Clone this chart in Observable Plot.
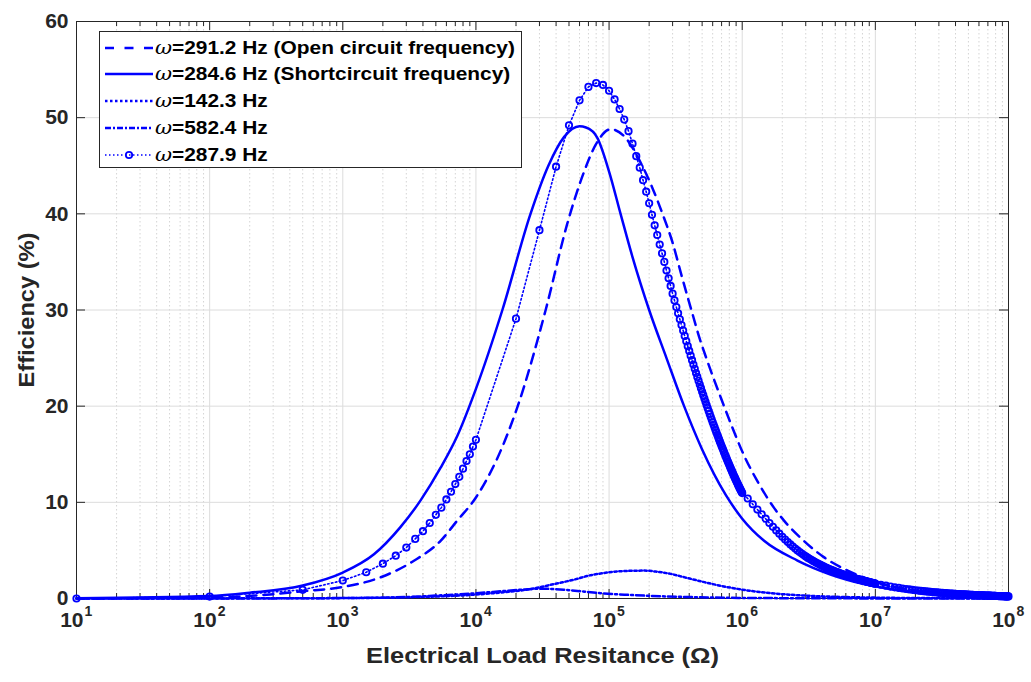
<!DOCTYPE html>
<html><head><meta charset="utf-8">
<script src="https://cdn.jsdelivr.net/npm/d3@7"></script>
<script src="https://cdn.jsdelivr.net/npm/@observablehq/plot@0.6"></script>
<style>
body{margin:0;background:#fff;}
#wrap{position:relative;width:1031px;height:682px;font-family:"Liberation Sans",Arial,Helvetica,sans-serif;}
#legend{position:absolute;left:99px;top:31px;width:423px;height:137px;border:1px solid #262626;background:#fff;box-sizing:border-box;}
.row{position:absolute;left:0;height:27px;display:flex;align-items:center;font-weight:bold;font-size:18px;color:#000;white-space:nowrap;}
.row svg{margin-left:5px;margin-right:2px;flex:none;}
.row .lab{display:inline-block;transform:scaleX(1.16);transform-origin:0 50%;}
.row i{font-weight:normal;font-family:"DejaVu Serif","Liberation Serif",serif;}
</style></head><body><div id="wrap"><div id="chart"></div><div id="legend"></div></div>
<script>
// ---- data (resistance in ohm, efficiency in %) ----
const legendLabels = ["=291.2 Hz (Open circuit frequency)", "=284.6 Hz (Shortcircuit frequency)", "=142.3 Hz", "=582.4 Hz", "=287.9 Hz"];
const yTicks = [0, 10, 20, 30, 40, 50, 60];
const xExponents = [1, 2, 3, 4, 5, 6, 7, 8];

const resOpen = [10,100,300,500,1000,1920,3400,5430,7240,10000,16600,20600,33400,48600,65000,79400,103000,135000,170000,210000,252000,300000,350000,415000,480000,550000,690000,820000,1030000,1300000,1740000,2060000,2900000,4100000,6200000,8700000,13000000,20000000,40000000,100000000];
const effOpen = [0,0.1,0.45,0.75,1.2,2.2,3.9,6.0,8.1,10.5,16.5,20.0,30.0,39.0,44.4,47.2,48.8,47.8,45.5,42.8,40.0,37.0,33.6,30.0,27.0,24.6,20.9,18.2,14.9,12.2,9.4,8.1,6.0,4.3,2.9,2.05,1.3,0.85,0.45,0.2];

const resShort = [10,100,200,500,1000,1715,2700,3840,5430,7240,10000,15800,25700,35000,46000,60000,75000,81600,100000,122000,150000,200000,270000,366000,500000,750000,1000000,1460000,2600000,4600000,8200000,20000000,50000000,100000000];
const effShort = [0.02,0.25,0.6,1.35,2.7,4.6,7.4,10.2,13.6,16.9,21.8,30.0,40.0,45.0,48.0,49.1,48.6,47.9,44.4,40.0,35.5,30.0,25.0,20.0,15.5,10.8,8.3,6.0,3.95,2.5,1.5,0.65,0.3,0.15];

const resLow = [10,100,1000,3000,8600,15300,21700,27300,38500,57800,68700,86500,122000,183000,230000,290000,370000,520000,700000,920000,1640000,3000000,6000000,10000000,30000000,100000000];
const effLow = [0,0.01,0.04,0.13,0.35,0.62,0.83,1.05,1.5,2.05,2.35,2.6,2.84,2.9,2.78,2.56,2.2,1.7,1.3,1.0,0.55,0.3,0.15,0.09,0.04,0.01];

const resHigh = [10,100,1000,3000,5000,10000,15300,22000,31000,48500,86500,130000,200000,400000,1000000,10000000,100000000];
const effHigh = [0,0,0.05,0.15,0.3,0.55,0.75,0.92,1.02,0.88,0.55,0.4,0.28,0.15,0.06,0.01,0];

// 287.9 Hz series (marker samples), in four ranges
const resMidA = [10,100,500,1000,1500,2000,2500,3000,3500,4000,4500,5000,5500,6000,6500,7000,7500,8000,8500,9000,9500,10000];
const effMidA = [0,0.2,0.9,1.87,2.73,3.62,4.45,5.3,6.2,7.0,7.85,8.7,9.45,10.3,11.1,11.9,12.65,13.5,14.3,15.0,15.8,16.5];
const resMidB_kOhm = [20,30,40,50,60,70,80,90,100,110,120,130,140,150,160,170,180,190,200,210,220,230,240,250,260,270,280,290,300,310,320,330,340,350,360,370,380,390,400,410,420,430,440,450,460,470,480,490,500,510,520,530,540,550,560,570,580,590,600,610,620,630,640,650,660,670,680,690,700,710,720,730,740,750,760,770,780,790,800,810,820,830,840,850,860,870,880,890,900,910,920,930,940,950,960,970,980,990,1000];
const effMidB = [29.1,38.3,44.9,49.2,51.8,53.2,53.6,53.4,52.8,51.9,50.9,49.8,48.6,47.3,46.0,44.8,43.5,42.3,41.1,39.9,38.8,37.8,36.8,35.9,35.0,34.1,33.3,32.5,31.7,31.0,30.3,29.66,29.04,28.44,27.86,27.30,26.76,26.24,25.74,25.25,24.78,24.32,23.88,23.45,23.04,22.64,22.25,21.87,21.50,21.14,20.79,20.45,20.12,19.80,19.49,19.19,18.90,18.61,18.33,18.06,17.79,17.53,17.27,17.02,16.78,16.54,16.31,16.08,15.86,15.64,15.43,15.22,15.02,14.82,14.62,14.43,14.24,14.06,13.88,13.70,13.53,13.36,13.19,13.03,12.87,12.71,12.56,12.41,12.26,12.12,11.98,11.84,11.71,11.58,11.45,11.32,11.20,11.08,10.96];
const resMidC_MOhm = [1.1,1.2,1.3,1.4,1.5,1.6,1.7,1.8,1.9,2.0,2.1,2.2,2.3,2.4,2.5,2.6,2.7,2.8,2.9,3.0,3.1,3.2,3.3,3.4,3.5,3.6,3.7,3.8,3.9,4.0,4.1,4.2,4.3,4.4,4.5,4.6,4.7,4.8,4.9,5.0,5.1,5.2,5.3,5.4,5.5,5.6,5.7,5.8,5.9,6.0,6.1,6.2,6.3,6.4,6.5,6.6,6.7,6.8,6.9,7.0,7.1,7.2,7.3,7.4,7.5,7.6,7.7,7.8,7.9,8.0,8.1,8.2,8.3,8.4,8.5,8.6,8.7,8.8,8.9,9.0,9.1,9.2,9.3,9.4,9.5,9.6,9.7,9.8,9.9,10.0];
const effMidC = [10.4,9.8,9.25,8.75,8.3,7.85,7.45,7.08,6.74,6.42,6.13,5.87,5.62,5.4,5.19,5.0,4.83,4.67,4.52,4.38,4.25,4.13,4.02,3.91,3.81,3.72,3.63,3.55,3.47,3.39,3.32,3.25,3.18,3.12,3.06,3.0,2.95,2.9,2.85,2.8,2.75,2.71,2.67,2.62,2.58,2.54,2.5,2.47,2.43,2.4,2.37,2.34,2.3,2.27,2.24,2.21,2.18,2.15,2.13,2.1,2.08,2.05,2.03,2.0,1.98,1.96,1.94,1.92,1.9,1.88,1.86,1.84,1.82,1.8,1.78,1.76,1.75,1.73,1.71,1.7,1.68,1.66,1.65,1.63,1.62,1.6,1.59,1.57,1.56,1.55];
const resMidD_MOhm = [11,12,13,14,15,16,17,18,19,20,21,22,23,24,25,26,27,28,29,30,31,32,33,34,35,36,37,38,39,40,41,42,43,44,45,46,47,48,49,50,51,52,53,54,55,56,57,58,59,60,61,62,63,64,65,66,67,68,69,70,71,72,73,74,75,76,77,78,79,80,81,82,83,84,85,86,87,88,89,90,91,92,93,94,95,96,97,98,99,100];
const effMidD = [1.43,1.33,1.24,1.16,1.10,1.04,0.99,0.94,0.90,0.86,0.82,0.79,0.76,0.74,0.71,0.69,0.67,0.65,0.63,0.61,0.59,0.58,0.56,0.55,0.53,0.52,0.51,0.50,0.49,0.48,0.47,0.46,0.45,0.44,0.43,0.42,0.42,0.41,0.40,0.40,0.39,0.38,0.38,0.37,0.36,0.36,0.35,0.35,0.34,0.34,0.33,0.33,0.32,0.32,0.32,0.31,0.31,0.30,0.30,0.30,0.29,0.29,0.29,0.28,0.28,0.28,0.27,0.27,0.27,0.27,0.26,0.26,0.26,0.25,0.25,0.25,0.25,0.24,0.24,0.24,0.24,0.24,0.23,0.23,0.23,0.23,0.23,0.22,0.22,0.22];

// ---- build tables ----
const zip = (xs, ys) => xs.map((r, i) => ({r, e: ys[i]}));
const open = zip(resOpen, effOpen);
const short = zip(resShort, effShort);
const low = zip(resLow, effLow);
const high = zip(resHigh, effHigh);
const mid = [
  ...zip(resMidA, effMidA),
  ...zip(resMidB_kOhm.map(k => k * 1e3), effMidB),
  ...zip(resMidC_MOhm.map(m => m * 1e6), effMidC),
  ...zip(resMidD_MOhm.map(m => m * 1e6), effMidD)
];

const W = 1031, H = 682, mL = 76, mR = 23, mT = 21, mB = 84;
const pw = W - mL - mR, ph = H - mT - mB;
const blue = "#0000ff", ink = "#262626";
const font = "'Liberation Sans', Arial, Helvetica, sans-serif";
const xTitle = "Electrical Load Resitance (\u03A9)", yTitle = "Efficiency (%)";

const allX = d3.scaleLog().domain([10, 1e8]).ticks();
const majorX = xExponents.map(e => 10 ** e);
const minorX = allX.filter(v => !majorX.some(m => Math.abs(m - v) / m < 1e-9));

const chart = Plot.plot({
  width: W, height: H,
  marginLeft: mL, marginRight: mR, marginTop: mT, marginBottom: mB,
  style: {fontFamily: font, background: "white", overflow: "visible"},
  x: {type: "log", domain: [10, 1e8], axis: null},
  y: {domain: [0, 60], axis: null},
  marks: [
    Plot.ruleX(minorX, {x: d => d, stroke: "#d4d4d4", strokeWidth: 1, strokeDasharray: "1.5,2.5"}),
    Plot.ruleX(majorX.slice(1, -1), {x: d => d, stroke: "#dcdcdc", strokeWidth: 1}),
    Plot.ruleY(yTicks.slice(1, -1), {y: d => d, stroke: "#dcdcdc", strokeWidth: 1}),
    Plot.frame({stroke: ink, strokeWidth: 1}),
    Plot.tickX(majorX, {x: d => d, insetTop: ph - 9, stroke: ink}),
    Plot.tickX(majorX, {x: d => d, insetBottom: ph - 9, stroke: ink}),
    Plot.tickX(minorX, {x: d => d, insetTop: ph - 5, stroke: ink}),
    Plot.tickX(minorX, {x: d => d, insetBottom: ph - 5, stroke: ink}),
    Plot.tickY(yTicks, {y: d => d, insetRight: pw - 9, stroke: ink}),
    Plot.tickY(yTicks, {y: d => d, insetLeft: pw - 9, stroke: ink}),
    // data
    Plot.line(low, {x: "r", y: "e", stroke: blue, strokeWidth: 2.5, strokeDasharray: "2.5,2.5", curve: "monotone-x"}),
    Plot.line(high, {x: "r", y: "e", stroke: blue, strokeWidth: 2.5, strokeDasharray: "8,3,2,3", curve: "monotone-x"}),
    Plot.line(open, {x: "r", y: "e", stroke: blue, strokeWidth: 2.5, strokeDasharray: "10,7", curve: "monotone-x"}),
    Plot.line(short, {x: "r", y: "e", stroke: blue, strokeWidth: 2.5, curve: "monotone-x"}),
    Plot.line(mid, {x: "r", y: "e", stroke: blue, strokeWidth: 1.6, strokeDasharray: "1.5,2.5"}),
    Plot.dot(mid, {x: "r", y: "e", r: 3.2, stroke: blue, strokeWidth: 1.8, fill: "none"}),
    // tick labels
    Plot.text(yTicks, {y: d => d, frameAnchor: "left", dx: -8, textAnchor: "end", text: d => String(d), fontSize: 21, fontWeight: "bold", fill: ink}),
    Plot.text(xExponents, {x: e => 10 ** e, frameAnchor: "bottom", dy: 28, dx: 7, textAnchor: "end", text: () => "10", fontSize: 21, fontWeight: "bold", fill: ink}),
    Plot.text(xExponents, {x: e => 10 ** e, frameAnchor: "bottom", dy: 17, dx: 8, textAnchor: "start", text: e => String(e), fontSize: 14, fontWeight: "bold", fill: ink}),
    // axis titles
    Plot.text([xTitle], {frameAnchor: "bottom", dy: 64, textAnchor: "middle", text: d => d, fontSize: 22, fontWeight: "bold", fill: ink}),
    Plot.text([yTitle], {frameAnchor: "left", dx: -50, rotate: -90, textAnchor: "middle", text: d => d, fontSize: 22, fontWeight: "bold", fill: ink})
  ]
});
document.getElementById("chart").appendChild(chart);

// widen the axis titles to the reference's wide bold face
d3.select(chart).selectAll("text").each(function () {
  if (this.textContent === xTitle) d3.select(this).attr("textLength", 353).attr("lengthAdjust", "spacingAndGlyphs");
  if (this.textContent === yTitle) d3.select(this).attr("textLength", 155).attr("lengthAdjust", "spacingAndGlyphs");
});

// ---- legend ----
const styles = [
  {dash: "9,10.5", w: 2.5},
  {dash: null, w: 2.5},
  {dash: "2.5,2.5", w: 2.5},
  {dash: "6,2,2,2", w: 2.5},
  {dash: "1.5,2.5", w: 1.6, marker: true}
];
const legend = d3.select("#legend");
styles.forEach((s, i) => {
  const row = legend.append("div").attr("class", "row").style("top", (2 + i * 26.8) + "px");
  const svg = row.append("svg").attr("width", 48).attr("height", 12);
  svg.append("line").attr("x1", 0).attr("x2", 48).attr("y1", 6).attr("y2", 6)
    .attr("stroke", blue).attr("stroke-width", s.w).attr("stroke-dasharray", s.dash);
  if (s.marker) svg.append("circle").attr("cx", 24).attr("cy", 6).attr("r", 3.2)
    .attr("fill", "none").attr("stroke", blue).attr("stroke-width", 1.8);
  const t = row.append("span").attr("class", "lab");
  t.append("i").text("\u03C9");
  t.append("span").text(legendLabels[i]);
});
</script>
</body></html>
